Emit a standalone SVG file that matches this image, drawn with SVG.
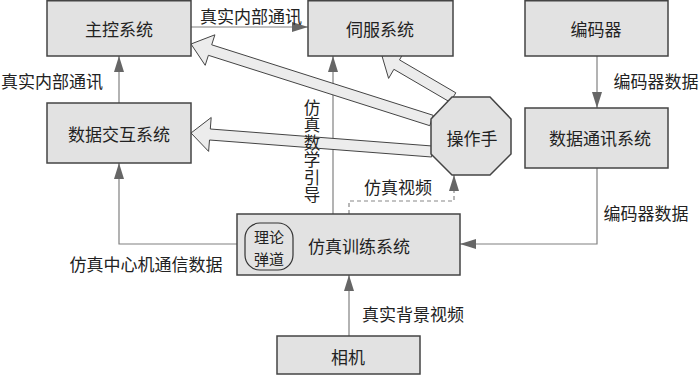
<svg xmlns="http://www.w3.org/2000/svg" width="700" height="375" viewBox="0 0 700 375">
<defs>
<marker id="ah" markerWidth="16" markerHeight="10" refX="16" refY="5" orient="auto" markerUnits="userSpaceOnUse"><path d="M0,0 L16,5 L0,10 Z" fill="#666"/></marker>
</defs>
<style>
.box{fill:#e2e2e2;stroke:#444;stroke-width:1.5}
.t{font-family:"Noto Sans CJK SC","Noto Sans",sans-serif;font-size:17px;fill:#222;text-anchor:middle;dominant-baseline:central}
.l{font-family:"Noto Sans CJK SC","Noto Sans",sans-serif;font-size:17px;fill:#222;text-anchor:middle;dominant-baseline:central}
.v{font-family:"Noto Sans CJK SC","Noto Sans",sans-serif;font-size:16.5px;fill:#222;writing-mode:vertical-rl;letter-spacing:1px}
.c{fill:none;stroke:#808080;stroke-width:1.2}
.d{fill:none;stroke:#888;stroke-width:1.2;stroke-dasharray:4,3}
.big{fill:#ececec;stroke:#444;stroke-width:1}
</style>
<rect width="700" height="375" fill="#fff"/>
<g id="connectors">
<line class="c" x1="191" y1="27" x2="308" y2="27" marker-end="url(#ah)"/>
<line class="c" x1="119" y1="103" x2="119" y2="56" marker-end="url(#ah)"/>
<polyline class="c" points="237,244 119,244 119,163" marker-end="url(#ah)"/>
<line class="c" x1="333" y1="214" x2="333" y2="56" marker-end="url(#ah)"/>
<polyline class="d" points="349,214 349,201 454,201 454,175"/>
<path d="M454,175 L459,191 L449,191 Z" fill="#666"/>
<line class="c" x1="597" y1="56" x2="597" y2="108" marker-end="url(#ah)"/>
<polyline class="c" points="597,168 597,244 460,244" marker-end="url(#ah)"/>
<line class="c" x1="349" y1="336" x2="349" y2="275" marker-end="url(#ah)"/>
<path class="big" d="M191,44 L214.9,34.8 L211.7,44.8 L433.2,115.3 L429.8,125.7 L208.4,55.3 L205.2,65.3 Z"/>
<path class="big" d="M191,133 L211.2,117.5 L210.3,129 L432.4,146 L431.6,157 L209.5,140 L208.6,151.4 Z"/>
<path class="big" d="M382,56 L404.8,50.8 L399.5,59.9 L455.8,92.8 L450.2,102.2 L393.9,69.3 L388.6,78.4 Z"/>
<text class="l" x="251" y="15">真实内部通讯</text>
<text class="l" x="52" y="80">真实内部通讯</text>
<text class="l" x="146" y="263">仿真中心机通信数据</text>
<text class="v" x="312" y="99">仿真数学引导</text>
<text class="l" x="398" y="186">仿真视频</text>
<text class="l" x="656" y="80">编码器数据</text>
<text class="l" x="646" y="212">编码器数据</text>
<text class="l" x="413" y="313">真实背景视频</text>
</g>
<g id="zhukong"><rect class="box" x="47" y="0.75" width="144" height="55.25"/><text class="t" x="119" y="28">主控系统</text></g>
<g id="sifu"><rect class="box" x="308" y="0.75" width="145" height="55.25"/><text class="t" x="380" y="28">伺服系统</text></g>
<g id="bianmaqi"><rect class="box" x="525" y="0.75" width="143" height="55.25"/><text class="t" x="596" y="28">编码器</text></g>
<g id="shujujiaohu"><rect class="box" x="47" y="103" width="144" height="60"/><text class="t" x="119" y="133">数据交互系统</text></g>
<g id="shujutongxun"><rect class="box" x="525" y="108" width="143" height="60"/><text class="t" x="600" y="137">数据通讯系统</text></g>
<g id="caozuoshou"><polygon class="box" points="452,97 490,97 511,119 511,154 490,175 452,175 431,154 431,119"/><text class="t" x="472" y="137">操作手</text></g>
<g id="fangzhen"><rect class="box" x="237" y="214" width="223" height="61"/><rect x="245" y="223" width="48" height="47" rx="15" ry="15" fill="none" stroke="#333" stroke-width="1.2"/><text class="t" style="font-size:15px"><tspan x="269" y="235.5">理论</tspan><tspan x="269" y="257.5">弹道</tspan></text><text class="t" x="359" y="245">仿真训练系统</text></g>
<g id="xiangji"><rect class="box" x="277" y="336" width="143" height="38"/><text class="t" x="348" y="356">相机</text></g>
</svg>
